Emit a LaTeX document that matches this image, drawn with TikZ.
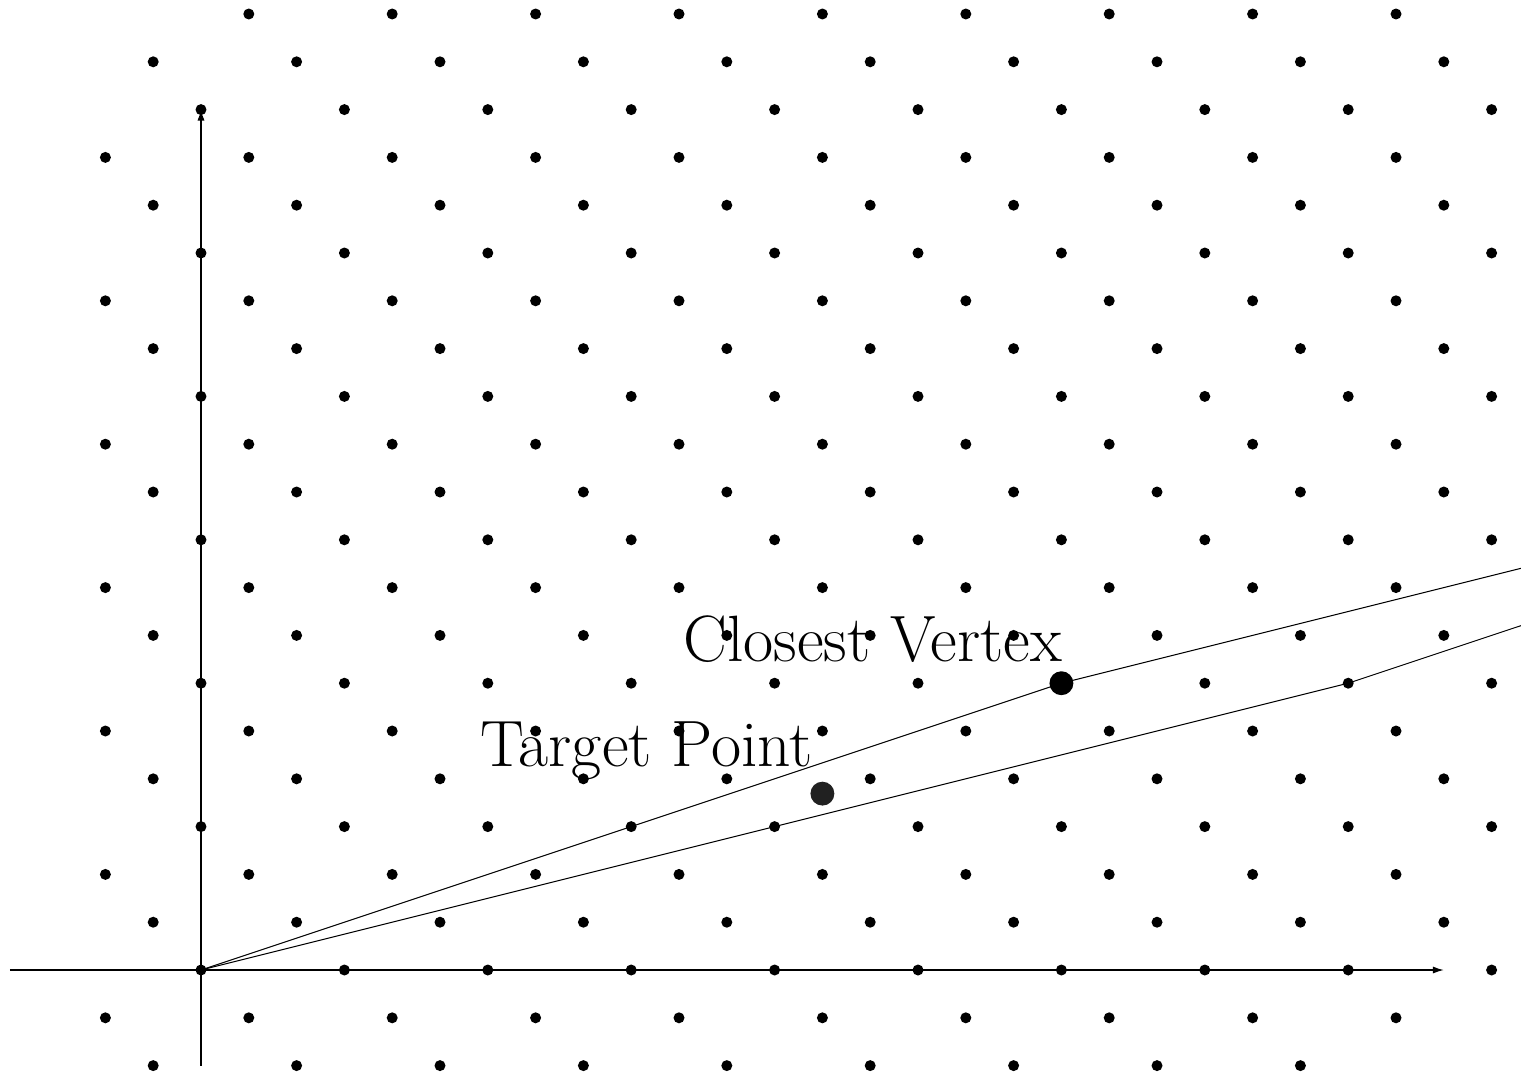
\documentclass[tikz,border=0pt]{standalone}
\usetikzlibrary{arrows.meta}
\begin{document}
\begin{tikzpicture}[x=1cm,y=1cm,
  axis/.style={line width=0.8pt,-{Latex[length=2.3mm,width=1.5mm]}},
  ray/.style={line width=0.6pt},
  latdot/.style={fill=black},
  bigdot/.style={circle,fill=black,inner sep=0pt,minimum size=0.5cm},
  tgtdot/.style={circle,fill=black!87,inner sep=0pt,minimum size=0.5cm},
  lbl/.style={anchor=base east,inner sep=0pt,font=\fontsize{39}{46}\selectfont}]
\useasboundingbox (-4.205,-2.176) rectangle (27.615,20.293);
% named points
\coordinate (O) at (0,0);
\coordinate (W) at (24,6);
\coordinate (E1) at (27.7,8.425);
\coordinate (E2) at (27.7,7.233);
\coordinate (XL) at (-4,0);
\coordinate (XR) at (26,0);
\coordinate (YB) at (0,-2);
\coordinate (YT) at (0,18);
% axes
\draw[axis] (XL) -- (XR);
\draw[axis] (YB) -- (YT);
% lattice
\foreach \yy in {-2,...,20}{
  \foreach \xx in {-2,...,27}{
    \pgfmathtruncatemacro\myr{mod(\xx+\yy+30,3)}
    \pgfmathtruncatemacro\myomit{((\xx==-2)&&(\yy==20))||((\xx==26)&&(\yy==-2))}
    \ifnum\myr=0 \ifnum\myomit=0
      \fill[latdot] (\xx,\yy) circle (0.115);
    \fi\fi
  }
}
% special points
\node[bigdot] (V) at (18,6) {};
\node[tgtdot] (T) at (13,3.69) {};
% rays
\draw[ray] (O) -- (V.center) -- (E1);
\draw[ray] (O) -- (W) -- (E2);
% labels
\node[lbl] (cvl) at (18.02,6.45) {Closest Vertex};
\node[lbl] (tpl) at (12.8,4.25) {Target Point};
\end{tikzpicture}
\end{document}
